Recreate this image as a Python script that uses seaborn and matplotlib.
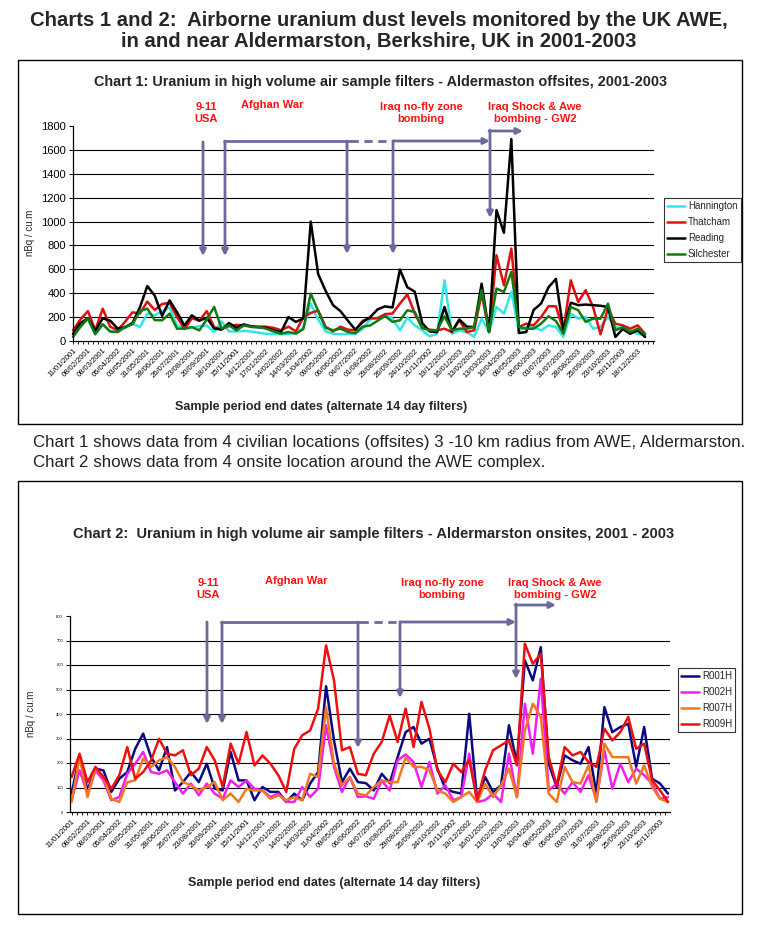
import numpy as np
import pandas as pd
import matplotlib
matplotlib.use("Agg")
import matplotlib.pyplot as plt
import seaborn as sns
from matplotlib.patches import Rectangle, FancyArrowPatch
from matplotlib.lines import Line2D
from matplotlib.ticker import MultipleLocator

# ---------------- data ----------------
dates1 = ["11/01/2001", "08/02/2001", "08/03/2001", "05/04/2002", "03/05/2001", "31/05/2001",
          "28/06/2001", "26/07/2001", "23/08/2001", "20/09/2001", "18/10/2001", "15/11/2001",
          "14/12/2001", "17/01/2002", "14/02/2002", "14/03/2002", "11/04/2002", "09/05/2002",
          "06/06/2002", "04/07/2002", "01/08/2002", "29/08/2002", "26/09/2002", "24/10/2002",
          "21/11/2002", "19/12/2002", "16/01/2003", "13/02/2003", "13/03/2003", "10/04/2003",
          "08/05/2003", "05/06/2003", "03/07/2003", "31/07/2003", "28/08/2003", "25/09/2003",
          "23/10/2003", "20/11/2003", "18/12/2003"]
dates2 = dates1[:-1]

sites1 = ["Hannington", "Thatcham", "Reading", "Silchester"]
hannington = [35, 120, 190, 60, 140, 80, 75, 110, 145, 117, 230, 215, 250, 280, 130, 105, 110, 125, 130, 75,
              165, 80, 80, 85, 80, 70, 60, 60, 56, 60, 70, 110, 313, 180, 80, 61, 56, 58, 63, 100,
              180, 195, 220, 187, 89, 196, 131, 89, 39, 61, 508, 61, 89, 75, 34, 187, 75, 285, 229, 411,
              89, 117, 117, 89, 131, 117, 34, 229, 187, 201, 103, 117, 201, 117, 103, 89, 61, 48]
thatcham = [90, 180, 250, 90, 270, 120, 90, 160, 240, 230, 330, 260, 310, 320, 200, 100, 190, 170, 250, 115,
            100, 125, 135, 130, 125, 120, 120, 110, 90, 120, 80, 200, 235, 255, 120, 80, 120, 95, 90, 170,
            190, 190, 225, 230, 313, 390, 230, 110, 95, 89, 103, 75, 173, 75, 90, 397, 75, 718, 467, 774,
            117, 145, 131, 200, 291, 291, 89, 508, 327, 425, 285, 56, 271, 145, 131, 103, 131, 61]
reading = [60, 150, 190, 85, 190, 170, 105, 115, 150, 280, 460, 380, 210, 340, 240, 130, 215, 170, 195, 105,
           95, 150, 110, 140, 120, 115, 110, 90, 75, 200, 160, 190, 1000, 560, 420, 300, 250, 170, 95, 159,
           200, 265, 290, 280, 598, 450, 413, 150, 80, 75, 285, 80, 180, 120, 117, 480, 75, 1096, 906, 1691,
           67, 75, 260, 313, 450, 520, 89, 321, 300, 305, 300, 295, 285, 34, 100, 61, 90, 34]
silchester = [34, 120, 187, 56, 140, 80, 75, 120, 140, 250, 271, 175, 173, 229, 103, 103, 117, 89, 180, 285,
              103, 131, 89, 131, 117, 117, 103, 80, 61, 75, 61, 100, 397, 250, 110, 90, 103, 75, 65, 120,
              130, 170, 210, 160, 173, 257, 243, 110, 89, 89, 207, 89, 103, 103, 117, 425, 75, 439, 411, 579,
              117, 103, 103, 145, 207, 168, 61, 285, 257, 160, 187, 187, 313, 89, 117, 75, 103, 56]

sites2 = ["R001H", "R002H", "R007H", "R009H"]
r001h = [75, 231, 88, 177, 170, 82, 136, 163, 258, 320, 224, 170, 265, 88, 122, 163, 122, 197, 95, 88,
         245, 129, 129, 48, 102, 82, 82, 41, 75, 48, 116, 163, 513, 292, 122, 177, 122,
         118, 88, 156, 118, 224, 326, 347, 279, 299, 177, 95, 82, 75, 401, 48, 143, 82, 109, 354, 197,
         619, 537, 673, 197, 102, 231, 211, 197, 265, 75, 428, 326, 347, 360, 184, 347, 136, 116, 75]
r002h = [48, 170, 75, 170, 129, 48, 61, 156, 197, 245, 163, 156, 170, 122, 75, 116, 68, 116, 75, 54,
         129, 102, 129, 95, 88, 61, 75, 41, 41, 102, 61, 95, 354, 184, 82, 143, 61,
         64, 54, 129, 88, 211, 235, 204, 102, 204, 75, 109, 48, 61, 238, 41, 48, 75, 41, 238, 61,
         442, 238, 544, 88, 116, 75, 122, 82, 150, 48, 252, 95, 197, 122, 177, 150, 116, 54, 61]
r007h = [41, 224, 61, 177, 143, 54, 41, 122, 129, 218, 184, 211, 224, 184, 122, 109, 88, 102, 122, 48,
         75, 41, 95, 88, 88, 54, 68, 48, 61, 48, 156, 143, 428, 197, 109, 143, 75,
         68, 102, 129, 122, 122, 222, 184, 184, 170, 88, 75, 41, 61, 82, 41, 116, 61, 109, 177, 61,
         333, 442, 388, 75, 41, 184, 122, 116, 190, 41, 279, 224, 224, 224, 116, 190, 102, 54, 41]
r009h = [143, 238, 122, 184, 143, 95, 150, 265, 136, 163, 211, 299, 238, 231, 252, 150, 177, 265, 211, 102,
         279, 197, 326, 190, 231, 197, 150, 82, 258, 313, 333, 422, 680, 537, 252, 265, 156,
         150, 238, 286, 394, 286, 422, 265, 449, 340, 170, 122, 197, 163, 214, 48, 170, 252, 272, 292, 190,
         687, 605, 646, 224, 109, 265, 231, 245, 204, 184, 340, 292, 326, 388, 258, 279, 129, 88, 41]

events = ["9-11\nUSA", "Afghan War", "Iraq no-fly zone\nbombing", "Iraq Shock & Awe\nbombing - GW2"]

# ---------------- styling ----------------
sns.set_theme(style="white")
plt.rcParams["font.family"] = ["Liberation Sans", "DejaVu Sans"]

W, H = 757, 926
fig = plt.figure(figsize=(W / 100, H / 100), dpi=100)


def fx(x):
    return x / W


def fy(y):
    return 1 - y / H


ARROW = "#6b6b9b"


def seg(x0, y0, x1, y1, dashed=False, head=False):
    if head:
        a = FancyArrowPatch((fx(x0), fy(y0)), (fx(x1), fy(y1)), transform=fig.transFigure,
                            arrowstyle="-|>", mutation_scale=9, color=ARROW, lw=2.0,
                            shrinkA=0, shrinkB=0)
        fig.add_artist(a)
    else:
        l = Line2D([fx(x0), fx(x1)], [fy(y0), fy(y1)], transform=fig.transFigure,
                   color=ARROW, lw=2.0, ls=(0, (3, 2)) if dashed else "-")
        fig.add_artist(l)


def box(x0, y0, x1, y1):
    fig.add_artist(Rectangle((fx(x0), fy(y1)), fx(x1) - fx(x0), fy(y0) - fy(y1),
                             transform=fig.transFigure, fill=False, ec="black", lw=1.0))


def chart(rect, series, names, palette, labels, ymax, ystep, ylab_fs, xlim, ylab_pos, leg_pos, leg_fs):
    x0, y0, x1, y1 = rect
    ax = fig.add_axes([fx(x0), fy(y1), fx(x1) - fx(x0), fy(y0) - fy(y1)])
    frames = []
    for name, vals in zip(names, series):
        frames.append(pd.DataFrame({"idx": np.arange(len(vals)), "value": vals, "site": name}))
    df = pd.concat(frames, ignore_index=True)
    for yv in np.arange(ystep, ymax, ystep):
        ax.axhline(yv, color="black", lw=0.8, zorder=0)
    sns.lineplot(data=df, x="idx", y="value", hue="site", hue_order=names, palette=palette,
                 sort=False, estimator=None, lw=1.8, legend=False, ax=ax)
    for ln in ax.lines[-len(names):]:
        ln.set_clip_on(False)
    ax.set_xlim(*xlim)
    ax.set_ylim(0, ymax)
    ax.set_yticks(np.arange(0, ymax + 1, ystep))
    ax.tick_params(axis="y", labelsize=ylab_fs, length=3, width=0.7, direction="out", left=True,
                   colors="black", pad=2)
    ax.set_xticks(np.arange(len(labels)) * 2)
    ax.set_xticklabels(labels, rotation=45, ha="right", rotation_mode="anchor", fontsize=5.5)
    ax.xaxis.set_minor_locator(MultipleLocator(2 / 3))
    ax.tick_params(axis="x", which="both", length=2.5, width=0.6, direction="out", bottom=True,
                   colors="black", pad=2)
    for s in ["top", "right"]:
        ax.spines[s].set_visible(False)
    for s in ["left", "bottom"]:
        ax.spines[s].set_color("black")
        ax.spines[s].set_linewidth(0.9)
    ax.set_xlabel("")
    ax.set_ylabel("")
    fig.text(fx(ylab_pos[0]), fy(ylab_pos[1]), "nBq / cu.m", rotation=90, ha="center", va="center",
             fontsize=7)
    handles = [Line2D([], [], color=palette[n], lw=1.8) for n in names]
    leg = ax.legend(handles, names, loc="upper left", bbox_to_anchor=(fx(leg_pos[0]), fy(leg_pos[1])),
                    bbox_transform=fig.transFigure, frameon=True, fancybox=False, edgecolor="black",
                    fontsize=leg_fs, handlelength=1.8, handletextpad=0.3, borderpad=0.35,
                    labelspacing=0.6, borderaxespad=0)
    leg.get_frame().set_linewidth(0.8)
    return ax


# ---------------- titles ----------------
fig.text(fx(379), fy(20), "Charts 1 and 2:  Airborne uranium dust levels monitored by the UK AWE,",
         ha="center", va="center", fontsize=14.6, fontweight="bold")
fig.text(fx(379), fy(42), "in and near Aldermarston, Berkshire, UK in 2001-2003",
         ha="center", va="center", fontsize=14.6, fontweight="bold")

# ---------------- chart 1 ----------------
box(18, 60, 742, 424)
fig.text(fx(380), fy(82), "Chart 1: Uranium in high volume air sample filters - Aldermaston offsites, 2001-2003",
         ha="center", va="center", fontsize=10.4, fontweight="bold")
pal1 = {"Hannington": "#33e6e6", "Thatcham": "#e01010", "Reading": "#000000", "Silchester": "#137a13"}
chart((73, 126, 654, 341), [hannington, thatcham, reading, silchester], sites1, pal1, dates1,
      1800, 200, 8, (0.27, 78.2), (30, 233), (664, 198), 7)
fig.text(fx(321), fy(407), "Sample period end dates (alternate 14 day filters)", ha="center", va="center",
         fontsize=9, fontweight="bold")

for (tx, ty), t in zip([(206, 113), (272, 105), (421, 113), (535, 113)], events):
    fig.text(fx(tx), fy(ty), t, ha="center", va="center", color="#ff1010", fontsize=8,
             fontweight="bold", linespacing=1.2)

seg(203, 142, 203, 256, head=True)
seg(225, 141, 225, 256, head=True)
seg(224, 141, 350, 141)
seg(350, 141, 393, 141, dashed=True)
seg(393, 141, 490, 141, head=True)
seg(347, 141, 347, 254, head=True)
seg(393, 141, 393, 254, head=True)
seg(490, 130, 490, 218, head=True)
seg(489, 131, 523, 131, head=True)

# ---------------- middle text ----------------
fig.text(fx(33), fy(442), "Chart 1 shows data from 4 civilian locations (offsites) 3 -10 km radius from AWE, Aldermarston.",
         ha="left", va="center", fontsize=12.2, color="#222222")
fig.text(fx(33), fy(463), "Chart 2 shows data from 4 onsite location around the AWE complex.",
         ha="left", va="center", fontsize=12.2, color="#222222")

# ---------------- chart 2 ----------------
box(18, 481, 742, 914)
fig.text(fx(374), fy(534), "Chart 2:  Uranium in high volume air sample filters - Aldermarston onsites, 2001 - 2003",
         ha="center", va="center", fontsize=10.5, fontweight="bold")
pal2 = {"R001H": "#0a0a80", "R002H": "#f020f0", "R007H": "#f07820", "R009H": "#ee1010"}
chart((70, 616, 670, 812), [r001h, r002h, r007h, r009h], sites2, pal2, dates2,
      800, 100, 3, (-0.2, 75.25), (31, 714), (678, 668), 7)
fig.text(fx(334), fy(883), "Sample period end dates (alternate 14 day filters)", ha="center", va="center",
         fontsize=9, fontweight="bold")

for (tx, ty), t in zip([(208, 589), (296, 581), (442, 589), (555, 589)], events):
    fig.text(fx(tx), fy(ty), t, ha="center", va="center", color="#ff1010", fontsize=8,
             fontweight="bold", linespacing=1.2)

seg(207, 622, 207, 724, head=True)
seg(222, 622, 222, 724, head=True)
seg(221, 622, 360, 622)
seg(360, 622, 400, 622, dashed=True)
seg(400, 622, 516, 622, head=True)
seg(358, 622, 358, 748, head=True)
seg(400, 622, 400, 698, head=True)
seg(516, 604, 516, 679, head=True)
seg(515, 605, 556, 605, head=True)

fig.savefig("out.png", dpi=100)
